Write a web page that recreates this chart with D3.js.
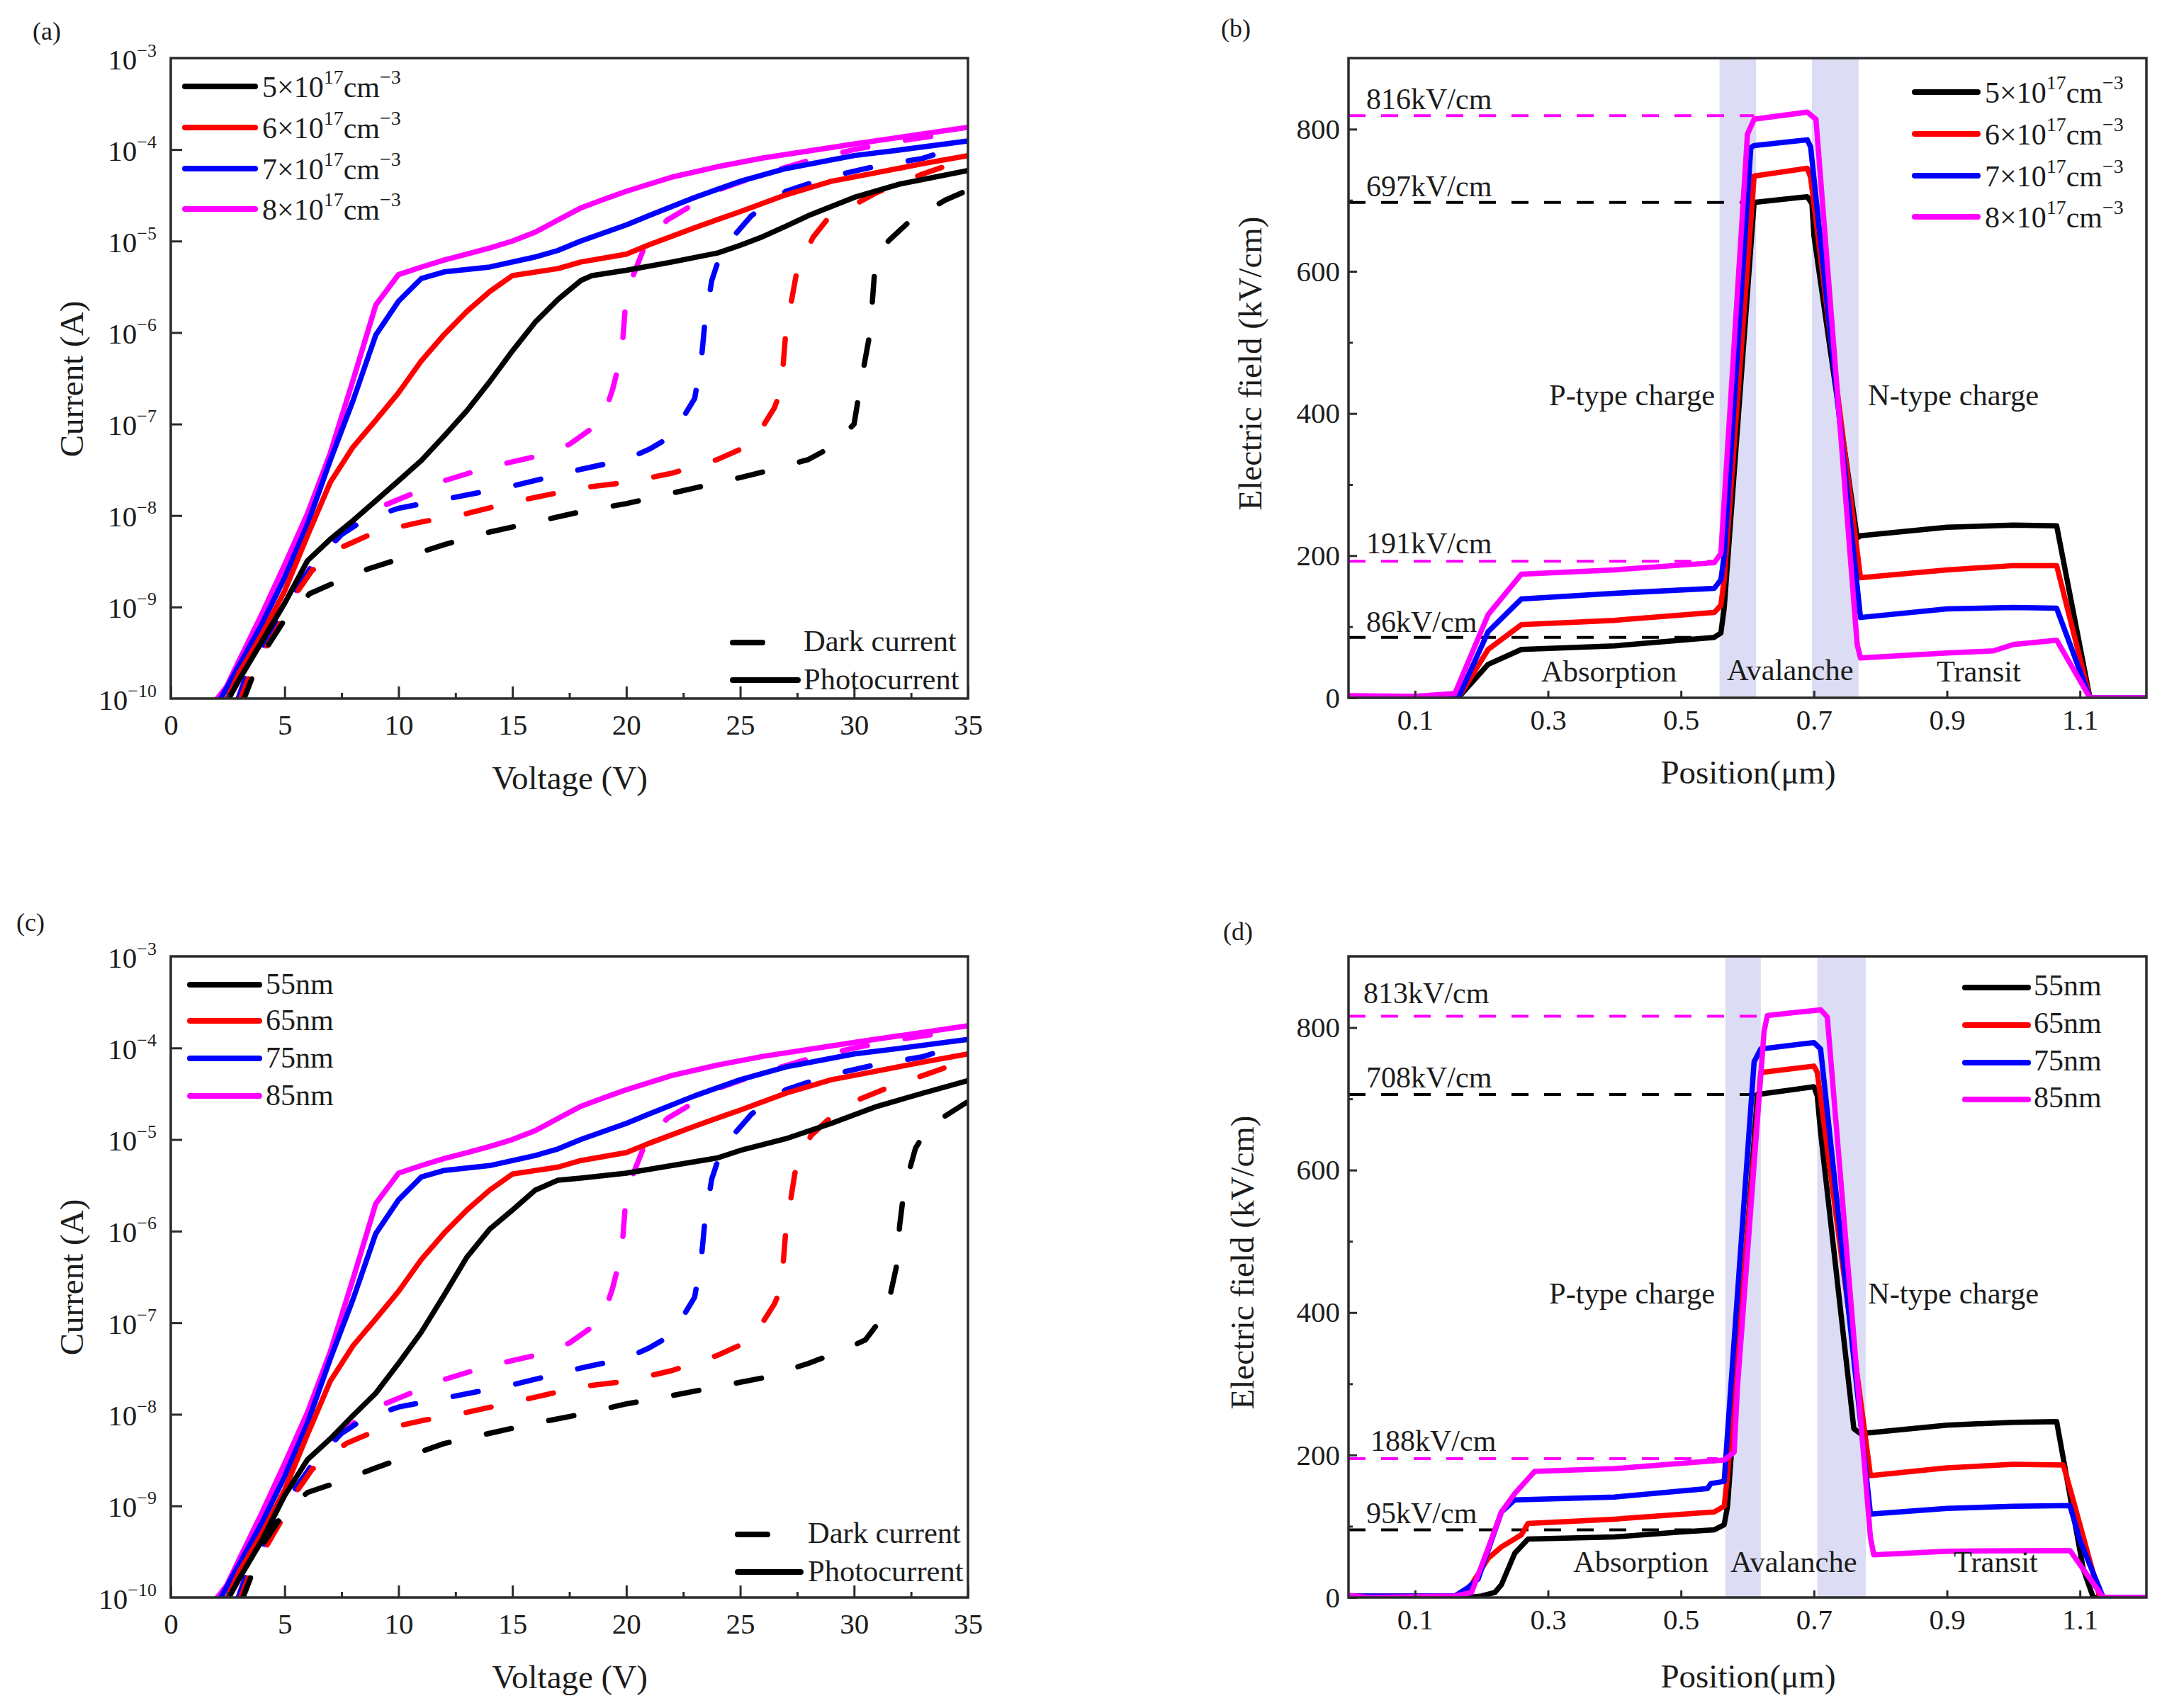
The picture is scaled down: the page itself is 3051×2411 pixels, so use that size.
<!DOCTYPE html>
<html>
<head>
<meta charset="utf-8">
<script src="https://cdn.jsdelivr.net/npm/d3@7"></script>
<style>
  body { margin: 0; background: #fff; }
  text { font-family: "Liberation Serif", serif; fill: #1c1c1c; }
</style>
</head>
<body>
<svg id="fig" width="3051" height="2411"></svg>
<script>
// colours per series, same order everywhere
const seriesColors = ['#000000', '#ff0000', '#0000ff', '#ff00ff'];

// x ticks / tick labels
const voltTicks = [0, 5, 10, 15, 20, 25, 30, 35];
const voltMinor = [2.5, 7.5, 12.5, 17.5, 22.5, 27.5, 32.5];
const currentTicks = [1e-3, 1e-4, 1e-5, 1e-6, 1e-7, 1e-8, 1e-9, 1e-10];
const posTicks = [0.1, 0.3, 0.5, 0.7, 0.9, 1.1];
const fieldTicks = [0, 200, 400, 600, 800];
const fieldMinor = [100, 300, 500, 700];

// legend names
const dopingNames = [['5', '17', '−3'], ['6', '17', '−3'], ['7', '17', '−3'], ['8', '17', '−3']];
const thicknessNames = ['55nm', '65nm', '75nm', '85nm'];

// (a) photocurrent [V, A]
const photoA5 = [[2.45,9e-11],[3,1.6e-10],[4,4.2e-10],[5,1.1e-9],[6,3.2e-9],[7,5.5e-9],[8,8.8e-9],[9,1.45e-8],[10,2.4e-8],[11,4e-8],[12,7.4e-8],[13,1.4e-7],[14,2.9e-7],[15,6.3e-7],[16,1.3e-6],[17,2.3e-6],[18,3.7e-6],[18.5,4.2e-6],[20,4.8e-6],[22,5.9e-6],[24,7.4e-6],[25,9e-6],[26,1.12e-5],[27,1.45e-5],[28,1.9e-5],[30,3e-5],[32,4.2e-5],[35,5.9e-5]];
const photoA6 = [[2.4,9e-11],[3,1.9e-10],[4,5e-10],[5,1.5e-9],[6,6e-9],[7,2.3e-8],[8,5.6e-8],[9,1.1e-7],[10,2.2e-7],[11,4.9e-7],[12,9.5e-7],[13,1.7e-6],[14,2.8e-6],[15,4.2e-6],[17,5e-6],[18,5.9e-6],[20,7.2e-6],[21,9.1e-6],[23,1.4e-5],[25,2.1e-5],[27,3.2e-5],[29,4.5e-5],[31,5.6e-5],[33,7e-5],[35,8.6e-5]];
const photoA7 = [[2.1,9e-11],[3,2.3e-10],[4,6.5e-10],[5,2.1e-9],[6,8e-9],[7,4e-8],[8,1.8e-7],[9,9.4e-7],[10,2.2e-6],[11,3.9e-6],[12,4.6e-6],[14,5.2e-6],[16,6.7e-6],[17,7.9e-6],[18,1e-5],[20,1.5e-5],[21,1.9e-5],[23,3e-5],[25,4.5e-5],[27,6.2e-5],[30,8.6e-5],[32,9.9e-5],[35,1.24e-4]];
const photoA8 = [[1.9,9e-11],[2.45,1.35e-10],[3,2.6e-10],[4,8.4e-10],[5,2.9e-9],[6,1.05e-8],[7,4.8e-8],[8,3e-7],[9,2e-6],[10,4.3e-6],[11,5.2e-6],[12,6.2e-6],[13,7.2e-6],[14,8.4e-6],[15,1e-5],[16,1.25e-5],[17,1.7e-5],[18,2.3e-5],[19,2.85e-5],[20,3.5e-5],[22,5e-5],[24,6.5e-5],[26,8.1e-5],[30,1.15e-4],[35,1.75e-4]];

// (a) dark current [V, A]
const darkA5 = [[3.15,9e-11],[3.65,1.9e-10],[4.3,3.9e-10],[5.05,7.6e-10],[6.1,1.4e-9],[7.3,1.9e-9],[8.65,2.6e-9],[9.95,3.3e-9],[12,4.8e-9],[14,6.6e-9],[16,8.5e-9],[18,1.1e-8],[20,1.35e-8],[23,2e-8],[25,2.6e-8],[26,3e-8],[28,4.1e-8],[29,5.6e-8],[30,1e-7],[30.25,2.4e-7],[30.7,1e-6],[30.9,4.6e-6],[31.5,1e-5],[32.5,1.7e-5],[34,2.8e-5],[35,3.6e-5]];
const darkA6 = [[3,9e-11],[3.5,1.9e-10],[4.3,4e-10],[5,8e-10],[5.5,1.4e-9],[6.2,2.5e-9],[7.5,4.5e-9],[9,6.6e-9],[11,8.5e-9],[13,1.05e-8],[15,1.4e-8],[18,2e-8],[20,2.3e-8],[22,2.9e-8],[24,4.1e-8],[25.5,6e-8],[26.5,1.5e-7],[26.8,2.4e-7],[27,1e-6],[27.5,4.9e-6],[28.2,1.1e-5],[28.8,1.7e-5],[31,3.4e-5],[33,5.4e-5],[35,8e-5]];
const darkA7 = [[2.9,9e-11],[3.4,2e-10],[5.5,1.6e-9],[6.3,3e-9],[7.5,6.2e-9],[8.5,9e-9],[10,1.2e-8],[12,1.5e-8],[15,2.1e-8],[18,3.2e-8],[20,4.1e-8],[21,5.3e-8],[22,7.4e-8],[23,1.9e-7],[23.3,5.2e-7],[23.45,1.3e-6],[23.75,3.7e-6],[24.2,8.1e-6],[24.8,1.2e-5],[25.5,1.9e-5],[27,3.5e-5],[29,5.1e-5],[31,6.6e-5],[33,8e-5],[35,1.15e-4]];
const darkA8 = [[2.9,9e-11],[3.2,1.5e-10],[6.5,3.9e-9],[8.7,1.1e-8],[10,1.5e-8],[12,2.4e-8],[14,3.4e-8],[16,4.4e-8],[17.5,6e-8],[18.5,9e-8],[19,1.2e-7],[19.4,2.4e-7],[19.8,6e-7],[19.94,1.7e-6],[20.3,4.2e-6],[20.9,1e-5],[21.8,1.7e-5],[24,3.6e-5],[26,5.4e-5],[28,7.6e-5],[30,1e-4],[32,1.24e-4],[35,1.6e-4]];

// (c) only the 55nm and 65nm curves differ from (a)
const photoC55 = [[2.45,9e-11],[3,1.6e-10],[4,4.2e-10],[5,1.3e-9],[6,3.2e-9],[7,5.4e-9],[8,9.7e-9],[9,1.7e-8],[10,3.6e-8],[11,7.9e-8],[12,2e-7],[13,5.2e-7],[14,1.05e-6],[15,1.7e-6],[16,2.8e-6],[17,3.6e-6],[18,3.8e-6],[20,4.3e-6],[22,5.2e-6],[24,6.3e-6],[25,7.6e-6],[27,1.02e-5],[29,1.5e-5],[31,2.3e-5],[33,3.2e-5],[35,4.4e-5]];
const darkC55 = [[3.1,9e-11],[4.1,4e-10],[5,8.7e-10],[6,1.4e-9],[7.3,1.8e-9],[9,2.6e-9],[10,3.2e-9],[12,4.8e-9],[14,6.2e-9],[16,8e-9],[18,1e-8],[20,1.3e-8],[22,1.6e-8],[24,2e-8],[26,2.5e-8],[28,3.6e-8],[29.5,5e-8],[30.5,6.5e-8],[31,9.5e-8],[31.5,1.6e-7],[31.85,4e-7],[32,1.15e-6],[32.2,2.9e-6],[32.7,8.1e-6],[33.3,1.4e-5],[35,2.6e-5]];
const darkC65 = [[3,9e-11],[3.5,1.9e-10],[4.3,4e-10],[5,8e-10],[5.5,1.4e-9],[6.2,2.5e-9],[7.7,4.8e-9],[9,6.6e-9],[11,8.5e-9],[13,1.05e-8],[15,1.35e-8],[18,2e-8],[20,2.3e-8],[22,3e-8],[24,4.4e-8],[25.5,6.5e-8],[26.5,1.6e-7],[26.8,2.4e-7],[27,1e-6],[27.4,4.3e-6],[28.1,1.1e-5],[28.8,1.6e-5],[30,2.6e-5],[31.5,3.7e-5],[33.5,5.5e-5],[35,7.5e-5]];

// (b) field [um, kV/cm]
const fieldB5 = [[0,0],[0.16,1],[0.165,0],[0.21,47],[0.26,68],[0.4,73],[0.55,85],[0.56,91],[0.565,126],[0.61,697],[0.69,705],[0.697,695],[0.7,650],[0.765,225],[0.77,228],[0.9,240],[1.0,243],[1.065,242],[1.115,0],[1.2,0]];
const fieldB6 = [[0,0],[0.16,1],[0.165,0],[0.21,68],[0.26,103],[0.4,109],[0.55,120],[0.56,130],[0.565,166],[0.61,734],[0.69,745],[0.695,732],[0.77,169],[0.9,180],[1.0,186],[1.065,186],[1.115,0],[1.2,0]];
const fieldB7 = [[0,0],[0.16,1],[0.165,0],[0.21,93],[0.26,139],[0.4,147],[0.55,154],[0.56,166],[0.565,199],[0.605,774],[0.61,777],[0.69,785],[0.695,775],[0.77,113],[0.9,125],[1.0,127],[1.065,126],[1.115,0],[1.2,0]];
const fieldB8 = [[0,3],[0.1,2],[0.16,6],[0.21,117],[0.26,174],[0.4,180],[0.55,190],[0.56,203],[0.565,276],[0.6,793],[0.61,814],[0.69,824],[0.703,814],[0.765,75],[0.77,56],[0.9,63],[0.97,66],[1.0,75],[1.065,81],[1.115,0],[1.2,0]];

// (d) field [um, kV/cm]
const fieldD55 = [[0,0],[0.18,0],[0.2,2],[0.22,7],[0.23,18],[0.25,62],[0.27,82],[0.4,85],[0.5,92],[0.55,95],[0.565,102],[0.57,128],[0.615,706],[0.7,717],[0.705,704],[0.71,653],[0.76,237],[0.77,230],[0.9,242],[1.0,246],[1.065,247],[1.105,40],[1.12,0],[1.2,0]];
const fieldD65 = [[0,2],[0.16,2],[0.18,11],[0.21,55],[0.23,71],[0.26,88],[0.27,104],[0.4,110],[0.55,120],[0.565,128],[0.57,172],[0.62,737],[0.7,746],[0.705,737],[0.785,171],[0.9,182],[1.0,187],[1.075,186],[1.086,150],[1.13,0],[1.2,0]];
const fieldD75 = [[0,2],[0.16,2],[0.18,14],[0.195,26],[0.23,120],[0.25,137],[0.4,141],[0.54,153],[0.545,160],[0.565,163],[0.57,230],[0.61,752],[0.62,770],[0.7,779],[0.71,770],[0.785,117],[0.9,125],[1.0,128],[1.085,129],[1.1,80],[1.135,0],[1.2,0]];
const fieldD85 = [[0,3],[0.03,0],[0.16,2],[0.185,7],[0.21,69],[0.23,120],[0.25,146],[0.28,177],[0.4,181],[0.55,192],[0.565,193],[0.58,204],[0.585,296],[0.625,795],[0.63,817],[0.71,825],[0.72,815],[0.785,84],[0.79,60],[0.9,65],[1.085,66],[1.135,0],[1.2,0]];

// shaded bands [from, to] and reference levels [value, end, colour index]
const bandsB = [[0.558, 0.613], [0.697, 0.767]];
const bandsD = [[0.567, 0.62], [0.705, 0.778]];
const refsB = [[819, 0.61, 3], [697, 0.61, 0], [192, 0.55, 3], [85, 0.55, 0]];
const refsD = [[816, 0.625, 3], [706, 0.615, 0], [195, 0.555, 3], [95, 0.555, 0]];

const svg = d3.select('#fig');
const frameColor = '#2b2b2b';
const curveWidth = 7.5;
let clipId = 0;

function makePanel(box) {
  const g = svg.append('g').attr('transform', `translate(${box.left},${box.top})`);
  const id = 'clip' + (clipId++);
  g.append('clipPath').attr('id', id).append('rect').attr('width', box.width).attr('height', box.height);
  const plot = g.append('g').attr('clip-path', `url(#${id})`);
  return { g, plot };
}

function styleAxis(sel, fontSize) {
  sel.select('.domain').remove();
  sel.selectAll('.tick line').attr('stroke', frameColor).attr('stroke-width', 3);
  sel.selectAll('.tick text').attr('font-size', fontSize).attr('fill', '#1c1c1c');
  sel.attr('font-family', null);
}

function drawFrame(g, box) {
  g.append('rect').attr('width', box.width).attr('height', box.height)
    .attr('fill', 'none').attr('stroke', frameColor).attr('stroke-width', 3.5);
}

function addText(x, y, str, size) {
  return svg.append('text').attr('x', x).attr('y', y).attr('font-size', size).text(str);
}

function rotatedLabel(x, y, str, size) {
  svg.append('text').attr('transform', `translate(${x},${y}) rotate(-90)`)
    .attr('text-anchor', 'middle').attr('font-size', size).text(str);
}

// "5×10^17cm^-3" with raised exponents
function dopingLabel(x, y, parts) {
  const t = svg.append('text').attr('x', x).attr('y', y).attr('font-size', 42);
  t.append('tspan').text(parts[0] + '×10');
  t.append('tspan').attr('font-size', 28).attr('dy', -19).text(parts[1]);
  t.append('tspan').attr('dy', 19).text('cm');
  t.append('tspan').attr('font-size', 28).attr('dy', -19).text(parts[2]);
}

function legendLine(x1, x2, y, color) {
  svg.append('line').attr('x1', x1).attr('x2', x2).attr('y1', y).attr('y2', y)
    .attr('stroke', color).attr('stroke-width', 8).attr('stroke-linecap', 'round');
}

function drawIV(box, photo, dark) {
  const { g, plot } = makePanel(box);
  const x = d3.scaleLinear().domain([0, 35]).range([0, box.width]);
  const y = d3.scaleLog().domain([1e-10, 1e-3]).range([box.height, 0]);
  const line = d3.line().x(d => x(d[0])).y(d => y(d[1]));

  // dark first, photocurrent above; black ends up on top
  [3, 2, 1, 0].forEach(i => {
    plot.append('path').datum(dark[i]).attr('d', line).attr('fill', 'none')
      .attr('stroke', seriesColors[i]).attr('stroke-width', curveWidth)
      .attr('stroke-linecap', 'round').attr('stroke-linejoin', 'round')
      .attr('stroke-dasharray', '36 54');
  });
  [3, 2, 1, 0].forEach(i => {
    plot.append('path').datum(photo[i]).attr('d', line).attr('fill', 'none')
      .attr('stroke', seriesColors[i]).attr('stroke-width', curveWidth)
      .attr('stroke-linejoin', 'round');
  });

  drawFrame(g, box);

  g.append('g').attr('transform', `translate(0,${box.height})`)
    .call(d3.axisBottom(x).tickValues(voltMinor).tickSize(-8).tickFormat(''))
    .call(styleAxis, 41);
  g.append('g').attr('transform', `translate(0,${box.height})`)
    .call(d3.axisBottom(x).tickValues(voltTicks).tickSize(-17).tickPadding(22).tickFormat(d3.format('d')))
    .call(styleAxis, 41);

  const yAxis = g.append('g')
    .call(d3.axisLeft(y).tickValues(currentTicks).tickSize(-16).tickPadding(20).tickFormat(''))
    .call(styleAxis, 41);
  yAxis.selectAll('.tick').each(function (d) {
    const t = d3.select(this).select('text').attr('dy', 15).text(null);
    t.append('tspan').text('10');
    t.append('tspan').attr('font-size', 26).attr('dy', -18).text('−' + Math.round(-Math.log10(d)));
  });
  yAxis.selectAll('.tick').filter(d => d === 1e-3).select('line').remove();
  yAxis.selectAll('.tick').filter(d => d === 1e-10).select('line').remove();
}

function drawField(box, series, bands, refs) {
  const { g, plot } = makePanel(box);
  const x = d3.scaleLinear().domain([0, 1.2]).range([0, box.width]);
  const y = d3.scaleLinear().domain([0, 900]).range([box.height, 0]);
  const line = d3.line().x(d => x(d[0])).y(d => y(d[1]));

  plot.selectAll('.band').data(bands).join('rect').attr('class', 'band')
    .attr('x', d => x(d[0])).attr('width', d => x(d[1]) - x(d[0]))
    .attr('y', 0).attr('height', box.height).attr('fill', '#dcdcf4');

  plot.selectAll('.ref').data(refs).join('line').attr('class', 'ref')
    .attr('x1', 0).attr('x2', d => x(d[1]))
    .attr('y1', d => y(d[0])).attr('y2', d => y(d[0]))
    .attr('stroke', d => seriesColors[d[2]]).attr('stroke-width', 4)
    .attr('stroke-dasharray', '24 22');

  series.forEach((s, i) => {
    plot.append('path').datum(s).attr('d', line).attr('fill', 'none')
      .attr('stroke', seriesColors[i]).attr('stroke-width', curveWidth)
      .attr('stroke-linejoin', 'round');
  });

  drawFrame(g, box);

  g.append('g').attr('transform', `translate(0,${box.height})`)
    .call(d3.axisBottom(x).tickValues(posTicks).tickSize(-10).tickPadding(16).tickFormat(d3.format('.1f')))
    .call(styleAxis, 41);
  g.append('g')
    .call(d3.axisLeft(y).tickValues(fieldMinor).tickSize(-6).tickFormat(''))
    .call(styleAxis, 41);
  g.append('g')
    .call(d3.axisLeft(y).tickValues(fieldTicks).tickSize(-12).tickPadding(12))
    .call(styleAxis, 41);
}

// ---- panel (a)
const boxA = { left: 241, top: 82, width: 1125, height: 904 };
drawIV(boxA, [photoA5, photoA6, photoA7, photoA8], [darkA5, darkA6, darkA7, darkA8]);
addText(46, 56, '(a)', 36);
rotatedLabel(117, 535, 'Current (A)', 47);
addText(804, 1114, 'Voltage (V)', 47).attr('text-anchor', 'middle');
[122, 180, 238, 295].forEach((yy, i) => {
  legendLine(261, 360, yy, seriesColors[i]);
  dopingLabel(370, yy + 15, dopingNames[i]);
});
legendLine(1034, 1076, 907, '#000');
legendLine(1034, 1126, 960, '#000');
addText(1134, 919, 'Dark current', 42.5);
addText(1134, 973, 'Photocurrent', 42.5);

// ---- panel (b)
const boxB = { left: 1903, top: 82, width: 1126, height: 903 };
drawField(boxB, [fieldB5, fieldB6, fieldB7, fieldB8], bandsB, refsB);
addText(1723, 52, '(b)', 36);
rotatedLabel(1780, 513, 'Electric field (kV/cm)', 47);
addText(2467, 1106, 'Position(μm)', 47).attr('text-anchor', 'middle');
[130, 189, 248, 306].forEach((yy, i) => {
  legendLine(2702, 2791, yy, seriesColors[i]);
  dopingLabel(2801, yy + 15, dopingNames[i]);
});
addText(1928, 154, '816kV/cm', 42);
addText(1928, 277, '697kV/cm', 42);
addText(1928, 781, '191kV/cm', 42);
addText(1928, 892, '86kV/cm', 42);
addText(2186, 572, 'P-type charge', 42.5);
addText(2636, 572, 'N-type charge', 42.5);
addText(2175, 962, 'Absorption', 42.5);
addText(2437, 960, 'Avalanche', 42.5);
addText(2733, 962, 'Transit', 42.5);

// ---- panel (c)
const boxC = { left: 241, top: 1350, width: 1125, height: 905 };
drawIV(boxC, [photoC55, photoA6, photoA7, photoA8], [darkC55, darkC65, darkA7, darkA8]);
addText(23, 1314, '(c)', 36);
rotatedLabel(117, 1803, 'Current (A)', 47);
addText(804, 2383, 'Voltage (V)', 47).attr('text-anchor', 'middle');
[1390, 1441, 1494, 1547].forEach((yy, i) => {
  legendLine(268, 366, yy, seriesColors[i]);
  addText(375, yy + 13, thicknessNames[i], 42);
});
legendLine(1041, 1083, 2166, '#000');
legendLine(1041, 1130, 2219, '#000');
addText(1140, 2178, 'Dark current', 42.5);
addText(1140, 2232, 'Photocurrent', 42.5);

// ---- panel (d)
const boxD = { left: 1903, top: 1350, width: 1126, height: 905 };
drawField(boxD, [fieldD55, fieldD65, fieldD75, fieldD85], bandsD, refsD);
addText(1726, 1327, '(d)', 36);
rotatedLabel(1769, 1782, 'Electric field (kV/cm)', 47);
addText(2467, 2382, 'Position(μm)', 47).attr('text-anchor', 'middle');
[1394, 1447, 1500, 1552].forEach((yy, i) => {
  legendLine(2773, 2862, yy, seriesColors[i]);
  addText(2870, yy + 11, thicknessNames[i], 42);
});
addText(1924, 1416, '813kV/cm', 42);
addText(1928, 1535, '708kV/cm', 42);
addText(1934, 2048, '188kV/cm', 42);
addText(1928, 2150, '95kV/cm', 42);
addText(2186, 1840, 'P-type charge', 42.5);
addText(2636, 1840, 'N-type charge', 42.5);
addText(2220, 2219, 'Absorption', 42.5);
addText(2442, 2219, 'Avalanche', 42.5);
addText(2757, 2219, 'Transit', 42.5);
</script>
</body>
</html>
